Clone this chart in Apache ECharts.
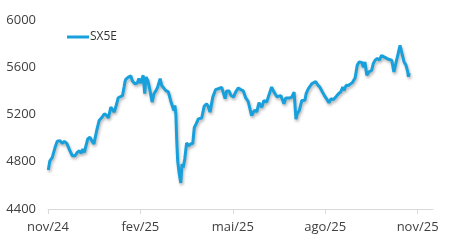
<!DOCTYPE html>
<html><head><meta charset="utf-8">
<script src="https://cdn.jsdelivr.net/npm/echarts@6/dist/echarts.min.js"></script>
<style>html,body{margin:0;padding:0;background:#fff}#c{width:450px;height:241px}</style>
</head><body><div id="c"></div>
<script>
// x = months since nov/24
const months = [0.01,0.06,0.14,0.23,0.30,0.39,0.46,0.53,0.61,0.66,0.71,0.79,0.88,0.95,1.02,1.07,1.13,1.18,1.22,1.29,1.36,1.42,1.49,1.58,1.66,1.74,1.83,1.91,1.96,2.04,2.10,2.15,2.23,2.28,2.34,2.42,2.47,2.50,2.53,2.61,2.69,2.74,2.82,2.90,2.95,3.01,3.09,3.14,3.18,3.24,3.29,3.38,3.44,3.51,3.56,3.64,3.69,3.74,3.82,3.91,3.98,4.05,4.09,4.12,4.15,4.18,4.21,4.26,4.31,4.35,4.39,4.44,4.50,4.56,4.63,4.70,4.75,4.81,4.88,4.99,5.07,5.15,5.20,5.26,5.35,5.44,5.53,5.64,5.69,5.75,5.80,5.88,5.94,6.02,6.09,6.18,6.27,6.34,6.42,6.50,6.61,6.70,6.78,6.85,6.94,7.01,7.10,7.15,7.26,7.34,7.43,7.48,7.56,7.62,7.66,7.72,7.77,7.83,7.91,7.99,8.05,8.09,8.16,8.24,8.29,8.34,8.38,8.45,8.56,8.61,8.69,8.76,8.83,8.91,8.97,9.05,9.12,9.19,9.26,9.34,9.43,9.50,9.57,9.61,9.68,9.75,9.81,9.88,9.97,10.04,10.10,10.19,10.24,10.29,10.35,10.42,10.51,10.56,10.62,10.69,10.76,10.83,10.91,11.00,11.08,11.16,11.23,11.30,11.37,11.43,11.48,11.56,11.62,11.68,11.70,11.73];
const sx5e = [4730,4808,4837,4922,4973,4979,4956,4973,4956,4950,4894,4851,4851,4879,4894,4871,4908,4880,4922,4993,5007,4979,4950,5064,5149,5172,5206,5191,5172,5262,5277,5220,5291,5342,5345,5360,5432,5480,5500,5517,5526,5483,5461,5466,5504,5466,5532,5376,5517,5489,5432,5305,5376,5404,5432,5504,5447,5432,5404,5390,5319,5262,5234,5277,5206,4979,4808,4700,4620,4780,4751,4823,4960,4936,4950,4956,5090,5121,5163,5170,5270,5291,5270,5220,5347,5410,5418,5430,5420,5334,5400,5398,5362,5347,5390,5425,5410,5400,5340,5310,5191,5234,5225,5300,5262,5319,5305,5347,5432,5390,5350,5362,5360,5319,5291,5340,5350,5340,5345,5390,5160,5206,5234,5319,5330,5320,5376,5418,5460,5475,5478,5450,5430,5390,5362,5330,5300,5334,5325,5347,5376,5390,5432,5404,5447,5445,5440,5470,5509,5617,5645,5640,5600,5645,5532,5560,5575,5631,5660,5674,5660,5700,5688,5675,5665,5660,5560,5640,5717,5785,5730,5645,5620,5560,5520,5550];
const tickMonths = [0,3,6,9,12];
const tickLabels = ['nov/24','fev/25','mai/25','ago/25','nov/25'];
const yTicks = [4400,4800,5200,5600,6000];

const chart = echarts.init(document.getElementById('c'), null, {renderer:'canvas'});
const font = 'Open Sans';
chart.setOption({
  animation:false,
  grid:{left:48,right:17,top:20,bottom:32},
  legend:{show:true,left:62,top:26,itemWidth:22,itemHeight:3,itemGap:10,
    textStyle:{fontFamily:font,fontSize:12,color:'#333',padding:[0,0,0,-4]},
    data:[{name:'SX5E',icon:'rect'}]},
  xAxis:{type:'value',min:0,max:12.5,
    axisLine:{show:true,lineStyle:{color:'#d9d9d9',width:1}},
    axisTick:{show:true,length:5,lineStyle:{color:'#d9d9d9'},customValues:tickMonths},
    axisLabel:{customValues:tickMonths,margin:12,fontFamily:font,fontSize:13,color:'#404040',
      formatter:v=>{const i=tickMonths.indexOf(Math.round(v));return i>=0?tickLabels[i]:'';}},
    splitLine:{show:false}},
  yAxis:{type:'value',min:4400,max:6000,interval:400,
    axisLine:{show:false},axisTick:{show:false},splitLine:{show:false},
    axisLabel:{margin:12,fontFamily:font,fontSize:13,color:'#404040',
      formatter:v=>yTicks.includes(v)?String(v):''}},
  series:[{name:'SX5E',type:'line',symbol:'none',
    data:months.map((m,i)=>[m,sx5e[i]]),
    lineStyle:{color:'#17a0dc',width:3,shadowColor:'rgba(0,0,0,0.3)',shadowBlur:3,shadowOffsetY:2,shadowOffsetX:1},
    itemStyle:{color:'#17a0dc'}}]
});
</script></body></html>
